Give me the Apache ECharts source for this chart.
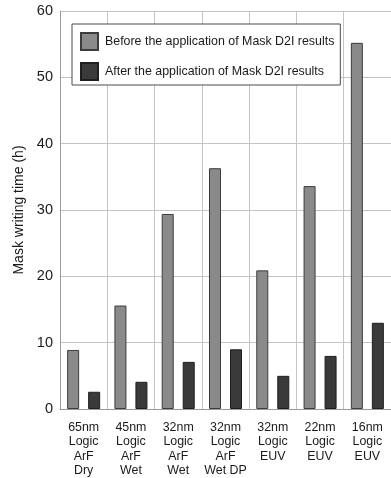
<!DOCTYPE html>
<html>
<head>
<meta charset="utf-8">
<script src="https://cdn.jsdelivr.net/npm/echarts@6/dist/echarts.min.js"></script>
<style>
  html, body { margin: 0; padding: 0; background: #fff; }
  #chart { width: 391px; height: 478px; }
</style>
</head>
<body>
<div id="chart"></div>
<script>
// Process nodes (multi-line category labels)
const categories = [
  '65nm\nLogic\nArF\nDry',
  '45nm\nLogic\nArF\nWet',
  '32nm\nLogic\nArF\nWet',
  '32nm\nLogic\nArF\nWet DP',
  '32nm\nLogic\nEUV',
  '22nm\nLogic\nEUV',
  '16nm\nLogic\nEUV'
];

// Mask writing time in hours
const beforeD2I = [8.9, 15.6, 29.4, 36.3, 20.9, 33.6, 55.2];
const afterD2I = [2.6, 4.1, 7.1, 9.0, 5.0, 8.0, 13.0];

const seriesNames = [
  'Before the application of Mask D2I results',
  'After the application of Mask D2I results'
];

const yTicks = { min: 0, max: 60, interval: 10 };

const font = 'Liberation Sans, Arial, sans-serif';
const chart = echarts.init(document.getElementById('chart'), null, { renderer: 'canvas' });

chart.setOption({
  animation: false,
  backgroundColor: '#ffffff',
  textStyle: { fontFamily: font },
  grid: { left: 60, top: 11, right: -7, bottom: 69, containLabel: false },
  legend: {
    orient: 'vertical',
    left: 72,
    top: 24,
    padding: [8, 6, 4, 8],
    itemGap: 11,
    itemWidth: 17,
    itemHeight: 17,
    backgroundColor: '#ffffff',
    borderColor: '#4a4a4a',
    borderWidth: 1,
    textStyle: { fontFamily: font, fontSize: 12.4, lineHeight: 17, color: '#1a1a1a', padding: [0, 0, 0, 2] },
    data: seriesNames.map(n => ({ name: n, icon: 'rect' }))
  },
  xAxis: {
    type: 'category',
    data: categories,
    boundaryGap: true,
    axisLine: { show: true, lineStyle: { color: '#9a9a9a', width: 1 } },
    axisTick: { show: false },
    splitLine: { show: true, lineStyle: { color: '#c4c4c4', width: 1 } },
    axisLabel: {
      interval: 0,
      margin: 11,
      fontFamily: font,
      fontSize: 12.4,
      lineHeight: 14.5,
      color: '#1a1a1a',
      align: 'center'
    }
  },
  yAxis: {
    type: 'value',
    min: yTicks.min,
    max: yTicks.max,
    interval: yTicks.interval,
    name: 'Mask writing time (h)',
    nameLocation: 'middle',
    nameGap: 33,
    nameTextStyle: { fontFamily: font, fontSize: 14, color: '#1a1a1a' },
    axisLine: { show: true, lineStyle: { color: '#9a9a9a', width: 1 } },
    axisTick: { show: false },
    splitLine: { show: true, lineStyle: { color: '#c4c4c4', width: 1 } },
    axisLabel: { fontFamily: font, fontSize: 14.5, color: '#1a1a1a', margin: 7 }
  },
  series: [
    {
      name: seriesNames[0],
      type: 'bar',
      data: beforeD2I,
      barWidth: 12,
      barGap: '75%',
      itemStyle: { color: '#8a8a8a', borderColor: '#3c3c3c', borderWidth: 1 }
    },
    {
      name: seriesNames[1],
      type: 'bar',
      data: afterD2I,
      barWidth: 12,
      barGap: '75%',
      itemStyle: { color: '#3a3a3a', borderColor: '#1e1e1e', borderWidth: 1 }
    }
  ]
});
</script>
</body>
</html>
